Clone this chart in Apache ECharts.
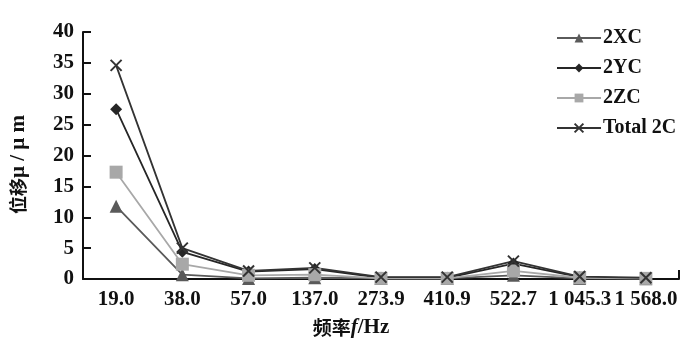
<!DOCTYPE html>
<html><head><meta charset="utf-8">
<script src="https://cdn.jsdelivr.net/npm/echarts@6/dist/echarts.min.js"></script>
<style>html,body{margin:0;padding:0;background:#fff}#c{width:700px;height:344px}</style>
</head><body><div id="c"></div>
<script>
const categories = ['19.0','38.0','57.0','137.0','273.9','410.9','522.7','1 045.3','1 568.0'];
const xc = [11.8, 0.7, 0.1, 0.2, 0.1, 0.1, 0.6, 0.1, 0.05];
const yc = [27.5, 4.4, 1.2, 1.6, 0.2, 0.2, 2.5, 0.3, 0.1];
const zc = [17.3, 2.4, 0.6, 0.7, 0.1, 0.1, 1.3, 0.2, 0.1];
const total = [34.6, 5.0, 1.3, 1.8, 0.3, 0.3, 2.9, 0.4, 0.2];
const seriesNames = ['2XC','2YC','2ZC','Total 2C'];

const font = 'Liberation Serif';
const cjk = 'Noto Sans CJK SC';
const chart = echarts.init(document.getElementById('c'), null, {renderer:'canvas'});
function line(name, data, color, symbol, size, extra) {
  return Object.assign({
    name, type:'line', data, symbol, symbolSize:size,
    lineStyle:{color, width:1.8}, itemStyle:{color},
    animation:false
  }, extra||{});
}
chart.setOption({
  animation:false,
  grid:{left:82, right:21, top:32, bottom:65},
  legend:{
    orient:'vertical', left:551, top:23, itemGap:10, itemWidth:44, itemHeight:11,
    textStyle:{fontFamily:font, fontSize:20, color:'#111', fontWeight:'bold', padding:[0,0,0,-3]},
    data:seriesNames
  },
  xAxis:{
    type:'category', data:categories, boundaryGap:true,
    axisLine:{lineStyle:{color:'#111', width:2}},
    axisTick:{show:true, inside:true, length:9, interval:function(i){return i===0;}, lineStyle:{color:'#111', width:2}},
    axisLabel:{fontFamily:font, fontSize:21, fontWeight:'bold', color:'#111', margin:10, interval:0},
    name:'{a|频率}{b|f}{c|/Hz}', nameLocation:'middle', nameGap:38,
    nameTextStyle:{padding:[0,60,0,0], rich:{
      a:{fontFamily:cjk, fontSize:19, fontWeight:'bold', color:'#111'},
      b:{fontFamily:font, fontSize:21, fontStyle:'italic', fontWeight:'bold', color:'#111'},
      c:{fontFamily:font, fontSize:21, fontWeight:'bold', color:'#111'}
    }}
  },
  yAxis:{
    type:'value', min:0, max:40, interval:5,
    axisLine:{show:true, lineStyle:{color:'#111', width:2}},
    axisTick:{show:true, inside:true, length:8, lineStyle:{color:'#111', width:2}},
    splitLine:{show:false},
    axisLabel:{fontFamily:font, fontSize:21, fontWeight:'bold', color:'#111', margin:9},
    name:'{a|位移}{b|μ / μ m}', nameLocation:'middle', nameGap:54, nameRotate:90,
    nameTextStyle:{padding:[0,0,0,-18], rich:{
      a:{fontFamily:cjk, fontSize:18, fontWeight:'bold', color:'#111'},
      b:{fontFamily:font, fontSize:21, fontWeight:'bold', color:'#111'}
    }}
  },
  series:[
    line('2XC', xc, '#5a5a5a', 'triangle', 13),
    line('2YC', yc, '#262626', 'diamond', 12),
    line('2ZC', zc, '#a8a8a8', 'rect', 13),
    line('Total 2C', total, '#333333', 'path://M0,0L10,10M10,0L0,10', 11,
      {itemStyle:{color:'#333333', borderColor:'#333333', borderWidth:2}})
  ]
});
</script></body></html>
